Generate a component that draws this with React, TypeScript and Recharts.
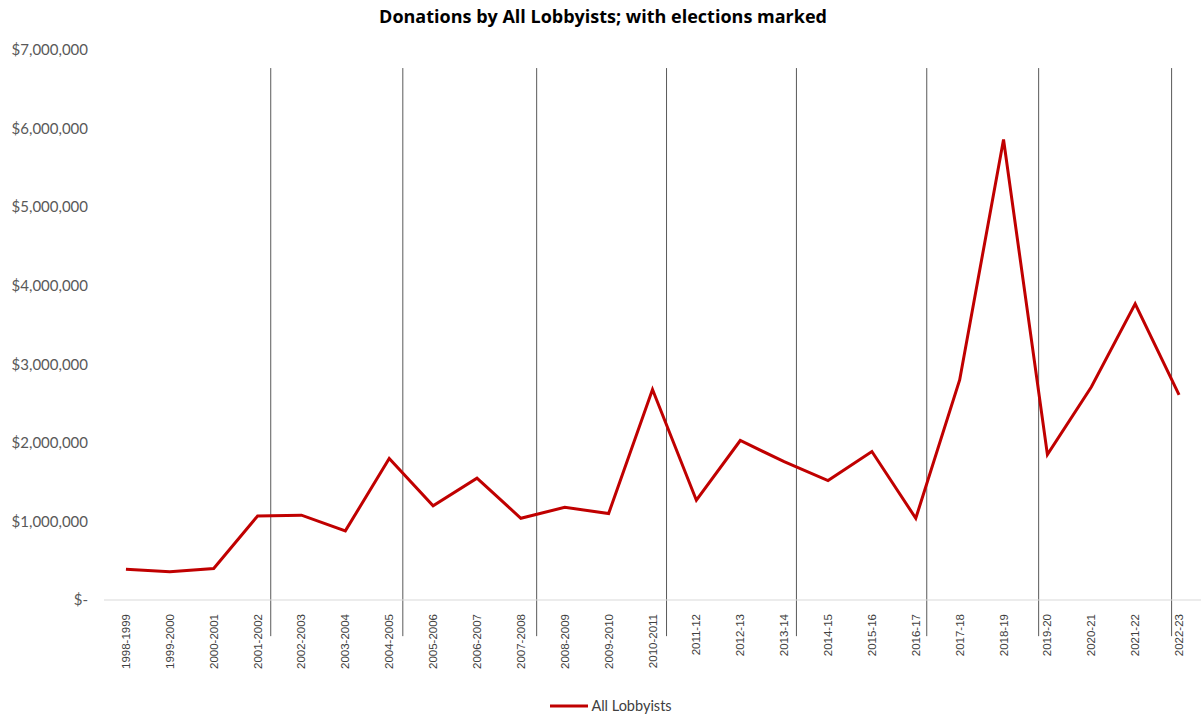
import React from 'react';
import { LineChart, Line, XAxis, YAxis, ReferenceLine, Legend } from 'recharts';

const categories = [
  '1998-1999', '1999-2000', '2000-2001', '2001-2002', '2002-2003', '2003-2004', '2004-2005',
  '2005-2006', '2006-2007', '2007-2008', '2008-2009', '2009-2010', '2010-2011', '2011-12',
  '2012-13', '2013-14', '2014-15', '2015-16', '2016-17', '2017-18', '2018-19', '2019-20',
  '2020-21', '2021-22', '2022-23',
];

const donations = [
  390000, 360000, 400000, 1070000, 1080000, 880000, 1800000, 1200000, 1550000, 1040000,
  1180000, 1100000, 2680000, 1270000, 2030000, 1760000, 1520000, 1890000, 1040000, 2800000,
  5860000, 1850000, 2710000, 3770000, 2610000,
];

// election markers, in category-index units (fractional position between categories)
const elections = [3.3, 6.31, 9.36, 12.32, 15.28, 18.25, 20.8, 23.83];

const yTicks = [0, 1000000, 2000000, 3000000, 4000000, 5000000, 6000000, 7000000];

const data = categories.map((c, i) => ({ idx: i, label: c, value: donations[i] }));

const fmtY = (v: number) => (v === 0 ? '$-' : '$' + v.toLocaleString('en-US'));

const XTick = (props: any) => {
  const { x, y, payload } = props;
  return (
    <text
      x={0}
      y={0}
      transform={`translate(${x},${y + 6}) rotate(-90)`}
      textAnchor="end"
      dy="0.35em"
      fontFamily="'Liberation Sans', Arial, sans-serif"
      fontSize={11.5}
      fill="#404040"
    >
      {categories[payload.value]}
    </text>
  );
};

const LegendContent = () => (
  <div style={{ display: 'flex', justifyContent: 'center', alignItems: 'center', paddingLeft: 20, paddingTop: 6 }}>
    <svg width={40} height={10}>
      <line x1={1} y1={5} x2={39} y2={5} stroke="#C00000" strokeWidth={3} />
    </svg>
    <span style={{ fontFamily: 'Lato, sans-serif', fontSize: 14.5, color: '#404040', marginLeft: 2 }}>
      All Lobbyists
    </span>
  </div>
);

export default function App() {
  return (
    <div style={{ position: 'absolute', left: 0, top: 0, width: 1201, height: 715, background: '#fff' }}>
      <div
        style={{
          position: 'absolute',
          left: 0,
          top: 4,
          width: 1206,
          textAlign: 'center',
          fontFamily: "'Open Sans', sans-serif",
          fontWeight: 700,
          fontSize: 18,
          color: '#000',
        }}
      >
        Donations by All Lobbyists; with elections marked
      </div>
      <LineChart width={1201} height={715} data={data} margin={{ top: 50, right: 0, left: 0, bottom: 0 }}>
        <XAxis
          dataKey="idx"
          type="number"
          domain={[-0.5, 24.5]}
          ticks={categories.map((_, i) => i)}
          interval={0}
          tick={<XTick />}
          tickLine={false}
          axisLine={{ stroke: '#D9D9D9', strokeWidth: 1 }}
          height={91}
        />
        <YAxis
          domain={[0, 7000000]}
          ticks={yTicks}
          tickFormatter={fmtY}
          axisLine={false}
          tickLine={false}
          tickMargin={10}
          width={104}
          tick={{ fontFamily: 'Lato, sans-serif', fontSize: 15, fill: '#595959' }}
        />
        {elections.map((e) => (
          <ReferenceLine
            key={e}
            segment={[{ x: e, y: 6770000 }, { x: e, y: -460000 }]}
            stroke="#595959"
            strokeWidth={1}
            ifOverflow="visible"
          />
        ))}
        <Line
          dataKey="value"
          name="All Lobbyists"
          stroke="#C00000"
          strokeWidth={3}
          dot={false}
          isAnimationActive={false}
        />
        <Legend verticalAlign="bottom" height={24} content={<LegendContent />} />
      </LineChart>
    </div>
  );
}
